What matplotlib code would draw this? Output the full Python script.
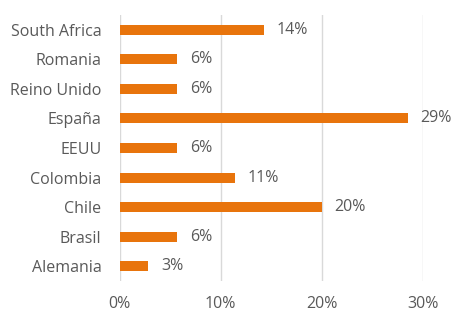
import matplotlib
matplotlib.use("Agg")
import matplotlib.pyplot as plt
from matplotlib.ticker import FuncFormatter

# Share of responses per country (counts out of 35)
countries = ["South Africa", "Romania", "Reino Unido", "España", "EEUU",
             "Colombia", "Chile", "Brasil", "Alemania"]
counts = [5, 2, 2, 10, 2, 4, 7, 2, 1]
total = 35
shares = [c / total for c in counts]
x_ticks = [0.0, 0.1, 0.2, 0.3]

bar_color = "#E8740C"
text_color = "#595959"
grid_color = "#D9D9D9"
fs = 11.5

plt.rcParams["font.family"] = ["Open Sans", "DejaVu Sans"]

fig = plt.figure(figsize=(4.55, 3.26), dpi=100)
ax = fig.add_axes([119.5 / 455, 1 - 281 / 326, (422.5 - 119.5) / 455, (281 - 15) / 326])

ypos = list(range(len(countries)))[::-1]
ax.barh(ypos, shares, height=0.34, color=bar_color, zorder=3)

for y, v in zip(ypos, shares):
    ax.annotate(f"{v * 100:.0f}%", xy=(v, y), xytext=(9, 0), textcoords="offset points",
                va="center", ha="left", fontsize=fs, color=text_color)

ax.set_xlim(0, 0.30)
ax.set_ylim(-0.5, len(countries) - 0.5)
ax.set_yticks(ypos)
ax.set_yticklabels(countries)
ax.set_xticks(x_ticks)
ax.xaxis.set_major_formatter(FuncFormatter(lambda v, _: f"{v * 100:.0f}%"))

ax.tick_params(axis="both", length=0, labelsize=fs, labelcolor=text_color)
ax.tick_params(axis="y", pad=13)
ax.tick_params(axis="x", pad=11)

ax.grid(axis="x", color=grid_color, linewidth=1, zorder=0)
ax.set_axisbelow(True)
for s in ax.spines.values():
    s.set_visible(False)

fig.savefig("out.png", dpi=100)
